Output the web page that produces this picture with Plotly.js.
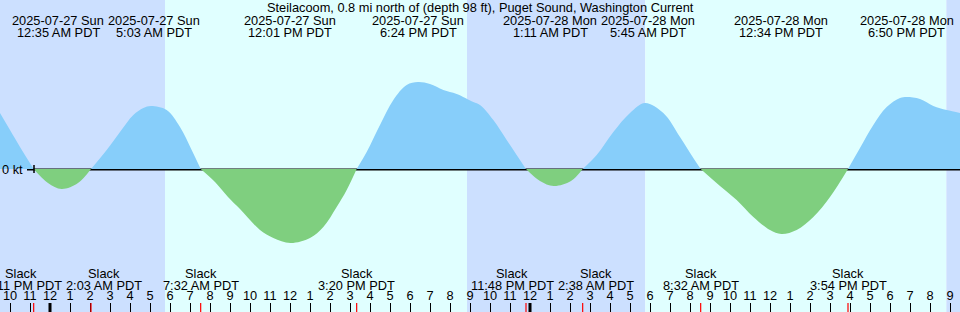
<!DOCTYPE html>
<html>
<head>
<meta charset="utf-8">
<script src="https://cdn.plot.ly/plotly-3.0.1.min.js"></script>
<style>html,body{margin:0;padding:0;background:#fff;}#chart{width:960px;height:312px;}</style>
</head>
<body>
<div id="chart"></div>
<script>
// ---- data ----
const titleText = 'Steilacoom, 0.8 mi north of (depth 98 ft), Puget Sound, Washington Current';
const times = [
 '2025-07-26 21:30','2025-07-26 22:00','2025-07-26 22:30','2025-07-26 23:11','2025-07-26 23:54',
 '2025-07-27 00:35','2025-07-27 01:24','2025-07-27 02:03','2025-07-27 02:50','2025-07-27 03:30',
 '2025-07-27 04:10','2025-07-27 04:40','2025-07-27 05:03','2025-07-27 05:50','2025-07-27 06:30',
 '2025-07-27 07:05','2025-07-27 07:32','2025-07-27 08:15','2025-07-27 08:54','2025-07-27 09:30',
 '2025-07-27 10:30','2025-07-27 11:10','2025-07-27 12:01','2025-07-27 13:00','2025-07-27 13:40',
 '2025-07-27 14:20','2025-07-27 14:50','2025-07-27 15:20','2025-07-27 15:50','2025-07-27 16:30',
 '2025-07-27 17:10','2025-07-27 17:50','2025-07-27 18:24','2025-07-27 19:00','2025-07-27 19:40',
 '2025-07-27 20:20','2025-07-27 21:10','2025-07-27 21:30','2025-07-27 22:10','2025-07-27 22:50',
 '2025-07-27 23:20','2025-07-27 23:48','2025-07-28 00:30','2025-07-28 01:11','2025-07-28 02:03',
 '2025-07-28 02:38','2025-07-28 03:20','2025-07-28 04:10','2025-07-28 05:00','2025-07-28 05:45',
 '2025-07-28 06:40','2025-07-28 07:30','2025-07-28 08:10','2025-07-28 08:32','2025-07-28 09:30',
 '2025-07-28 10:20','2025-07-28 11:10','2025-07-28 12:00','2025-07-28 12:34','2025-07-28 13:20',
 '2025-07-28 14:10','2025-07-28 15:00','2025-07-28 15:54','2025-07-28 16:30','2025-07-28 17:10',
 '2025-07-28 17:50','2025-07-28 18:30','2025-07-28 18:50','2025-07-28 19:30','2025-07-28 20:10',
 '2025-07-28 20:50','2025-07-28 21:30'
];
const speeds = [
 0.56,0.39,0.22,0,-0.14,
 -0.20,-0.14,0,0.19,0.37,
 0.54,0.61,0.63,0.59,0.42,
 0.19,0,-0.13,-0.28,-0.40,
 -0.61,-0.69,-0.74,-0.69,-0.58,
 -0.38,-0.21,0,0.17,0.44,
 0.69,0.84,0.87,0.85,0.79,
 0.75,0.67,0.64,0.49,0.29,
 0.14,0,-0.12,-0.17,-0.12,
 0,0.14,0.37,0.56,0.66,
 0.56,0.32,0.11,0,-0.17,
 -0.31,-0.48,-0.61,-0.65,-0.61,
 -0.48,-0.28,0,0.21,0.44,
 0.62,0.71,0.72,0.70,0.63,
 0.59,0.56
];
const maxTimes = ['2025-07-27 00:35','2025-07-27 05:03','2025-07-27 12:01','2025-07-27 18:24',
                  '2025-07-28 01:11','2025-07-28 05:45','2025-07-28 12:34','2025-07-28 18:50'];
const slackTimes = ['2025-07-26 23:11','2025-07-27 02:03','2025-07-27 07:32','2025-07-27 15:20',
                    '2025-07-27 23:48','2025-07-28 02:38','2025-07-28 08:32','2025-07-28 15:54'];
const sunsets  = ['2025-07-27 20:51','2025-07-28 20:49'];
const sunrises = ['2025-07-27 05:45','2025-07-28 05:46'];
const midnights = ['2025-07-27 00:00','2025-07-28 00:00'];
const viewStart = '2025-07-26 21:30', viewEnd = '2025-07-28 21:30';
const unitLabel = '0 kt';
const tz = 'PDT';

// ---- styling ----
const FONT = 'Liberation Sans, Arial, sans-serif';
const FS = 12.8;
const NIGHT = '#cce0ff', DAY = '#e0ffff', FLOOD = '#87cefa', EBB = '#7fcf7f';

function toMs(s){ const [d,t]=s.split(' '); const [Y,M,D]=d.split('-').map(Number); const [h,m]=t.split(':').map(Number); return Date.UTC(Y,M-1,D,h,m); }
const WD = ['Sun','Mon','Tue','Wed','Thu','Fri','Sat'];
function dateLine(s){ const ms=toMs(s); return s.split(' ')[0]+' '+WD[new Date(ms).getUTCDay()]; }
function timeLine(s){ let [h,m]=s.split(' ')[1].split(':').map(Number); const ap=h<12?'AM':'PM'; let hh=h%12; if(hh===0) hh=12; return hh+':'+String(m).padStart(2,'0')+' '+ap+' '+tz; }

const pxPerMs = 960/(toMs(viewEnd)-toMs(viewStart));
const cv = document.createElement('canvas').getContext('2d');
cv.font = FS+'px "Liberation Sans"';
function tw(t){ return cv.measureText(t).width; }
function spread(list, widthFn){
  const shifts = list.map(()=>0);
  for(let i=0;i<list.length-1;i++){
    const d = (toMs(list[i+1])-toMs(list[i]))*pxPerMs;
    const req = (widthFn(list[i])+widthFn(list[i+1]))/2 + 4;
    if(d<req){ const s=(req-d)/2; shifts[i]-=s; shifts[i+1]+=s; }
  }
  return shifts;
}

// fills
const floodY = speeds.map(v=> v>=0? v : null);
const ebbY = speeds.map(v=> v<=0? v : null);
const traces = [
  {x:times, y:floodY, mode:'lines', line:{shape:'spline', width:0, smoothing:1}, fill:'tozeroy', fillcolor:FLOOD, connectgaps:false, hoverinfo:'skip'},
  {x:times, y:ebbY, mode:'lines', line:{shape:'spline', width:0, smoothing:1}, fill:'tozeroy', fillcolor:EBB, connectgaps:false, hoverinfo:'skip'}
];

const shapes = [];
// day / night background
const bounds = [viewStart, sunrises[0], sunsets[0], sunrises[1], sunsets[1], viewEnd];
for(let i=0;i<bounds.length-1;i++){
  shapes.push({type:'rect', xref:'x', yref:'paper', x0:bounds[i], x1:bounds[i+1], y0:0, y1:1, fillcolor: i%2===0?NIGHT:DAY, line:{width:0}, layer:'below'});
}
// zero line (just below zero)
shapes.push({type:'rect', xref:'paper', yref:'y', x0:27/960, x1:1, ysizemode:'pixel', yanchor:0, y0:-1.5, y1:0.5, fillcolor:'#000', line:{width:0}, layer:'below'});
shapes.push({type:'line', xref:'paper', yref:'y', x0:34/960, x1:34/960, ysizemode:'pixel', yanchor:0, y0:-4, y1:4, line:{color:'#000', width:1.5}, layer:'above'});
// midnight thick ticks
midnights.forEach(m=> shapes.push({type:'line', xref:'x', yref:'paper', x0:m, x1:m, ysizemode:'pixel', yanchor:0, y0:0, y1:9, line:{color:'#000', width:3}}));
// slack red ticks
slackTimes.forEach(m=> shapes.push({type:'line', xref:'x', yref:'paper', x0:m, x1:m, ysizemode:'pixel', yanchor:0, y0:0, y1:9, line:{color:'#ff0000', width:1.2}}));

const annotations = [];
const tf = {family:FONT, size:FS, color:'#000'};
const base = {showarrow:false, font:tf, borderpad:0};
annotations.push(Object.assign({text:titleText, xref:'paper', yref:'paper', x:0.5, y:1, yanchor:'middle', yshift:-7.5}, base));
const topShift = spread(maxTimes, s=>Math.max(tw(dateLine(s)),tw(timeLine(s))));
maxTimes.forEach((s,i)=>{
  annotations.push(Object.assign({text:dateLine(s), xref:'x', yref:'paper', x:s, y:1, yanchor:'middle', yshift:-20, xshift:topShift[i]}, base));
  annotations.push(Object.assign({text:timeLine(s), xref:'x', yref:'paper', x:s, y:1, yanchor:'middle', yshift:-32, xshift:topShift[i]}, base));
});
const botShift = spread(slackTimes, s=>tw(timeLine(s)));
slackTimes.forEach((s,i)=>{
  annotations.push(Object.assign({text:'Slack', xref:'x', yref:'paper', x:s, y:0, yanchor:'middle', yshift:38.5, xshift:botShift[i]}, base));
  annotations.push(Object.assign({text:timeLine(s), xref:'x', yref:'paper', x:s, y:0, yanchor:'middle', yshift:26.5, xshift:botShift[i]}, base));
});
annotations.push(Object.assign({text:unitLabel, xref:'paper', yref:'y', x:0, y:0, xanchor:'left', xshift:1, yanchor:'middle'}, base));

const layout = {
  width:960, height:312, margin:{l:0,r:0,t:0,b:0,pad:0},
  paper_bgcolor:'#fff', plot_bgcolor:'#fff', showlegend:false,
  xaxis:{type:'date', range:[viewStart, viewEnd], showgrid:false, zeroline:false, showline:false,
         tick0:'2025-07-26 22:00', dtick:3600000, tickformat:'%-I', ticks:'inside', ticklen:9, tickwidth:1, tickcolor:'#000',
         ticklabelposition:'inside', tickfont:tf, fixedrange:true},
  yaxis:{range:[-1.43, 1.69], showgrid:false, zeroline:false, showticklabels:false, ticks:'', fixedrange:true},
  shapes:shapes, annotations:annotations, hovermode:false
};
Plotly.newPlot('chart', traces, layout, {staticPlot:true, displayModeBar:false});
</script>
</body>
</html>
